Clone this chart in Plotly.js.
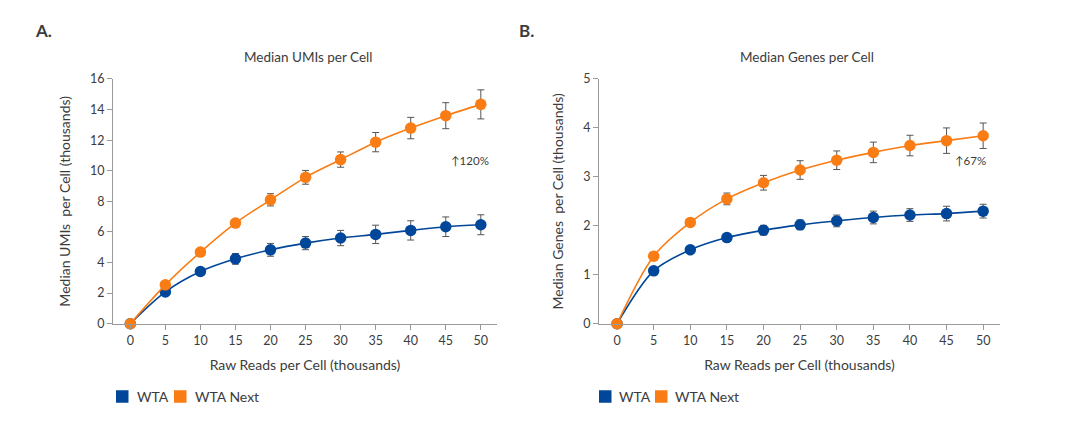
<!DOCTYPE html>
<html>
<head>
<meta charset="utf-8">
<script src="https://cdn.plot.ly/plotly-3.0.1.min.js"></script>
<style>html,body{margin:0;padding:0;background:#fff;}#chart{width:1071px;height:421px;}</style>
</head>
<body>
<div id="chart"></div>
<script>
// ---- data ----
const reads = [0, 5, 10, 15, 20, 25, 30, 35, 40, 45, 50];

// Panel A: Median UMIs per Cell (thousands)
const umiWTA        = [0, 2.08, 3.41, 4.24, 4.83, 5.27, 5.60, 5.84, 6.10, 6.34, 6.47];
const umiWTAErr     = [0, 0.10, 0.15, 0.35, 0.42, 0.43, 0.50, 0.60, 0.63, 0.64, 0.65];
const umiNext       = [0, 2.54, 4.68, 6.58, 8.10, 9.57, 10.73, 11.87, 12.79, 13.60, 14.34];
const umiNextErr    = [0, 0.10, 0.12, 0.15, 0.40, 0.45, 0.50, 0.63, 0.70, 0.85, 0.95];

// Panel B: Median Genes per Cell (thousands)
const geneWTA       = [0, 1.08, 1.51, 1.76, 1.91, 2.02, 2.10, 2.17, 2.22, 2.25, 2.30];
const geneWTAErr    = [0, 0.03, 0.05, 0.08, 0.10, 0.10, 0.12, 0.13, 0.13, 0.15, 0.14];
const geneNext      = [0, 1.38, 2.07, 2.55, 2.88, 3.14, 3.34, 3.50, 3.64, 3.74, 3.84];
const geneNextErr   = [0, 0.04, 0.06, 0.12, 0.15, 0.19, 0.19, 0.21, 0.21, 0.26, 0.26];

const seriesNames = ["WTA", "WTA Next"];
const xTicks = [0, 5, 10, 15, 20, 25, 30, 35, 40, 45, 50];
const umiTicks = [0, 2, 4, 6, 8, 10, 12, 14, 16];
const geneTicks = [0, 1, 2, 3, 4, 5];

// ---- styling ----
const BLUE = "#00479A";
const ORANGE = "#F97C14";
const FONT = "Lato, 'Open Sans', sans-serif";
const TXT = "#3c3c3c";
const W = 1071, H = 421;

function series(x, y, err, color, xa, ya) {
  return {
    x: x, y: y, xaxis: xa, yaxis: ya,
    type: "scatter", mode: "lines+markers",
    line: {color: color, width: 1.6, shape: "spline", smoothing: 0.9},
    marker: {color: color, size: 11.5},
    error_y: {type: "data", array: err, visible: true, color: "#555", thickness: 1, width: 3.5},
    showlegend: false, cliponaxis: false, hoverinfo: "x+y"
  };
}

const data = [
  series(reads, umiWTA, umiWTAErr, BLUE, "x", "y"),
  series(reads, umiNext, umiNextErr, ORANGE, "x", "y"),
  series(reads, geneWTA, geneWTAErr, BLUE, "x2", "y2"),
  series(reads, geneNext, geneNextErr, ORANGE, "x2", "y2")
];

const xCommon = {
  range: [-2.47, 52.3], tickvals: xTicks, ticktext: xTicks.map(String),
  showgrid: false, zeroline: false, showline: true, linecolor: "#9a9a9a", linewidth: 1,
  ticks: "outside", ticklen: 5, tickcolor: "#9a9a9a",
  tickfont: {family: FONT, size: 12.5, color: TXT},
  title: {text: "Raw Reads per Cell (thousands)", font: {family: FONT, size: 14, color: TXT}, standoff: 13}
};
function yCommon(range, ticks, title, anchor) {
  return {
    range: range, tickvals: ticks, ticktext: ticks.map(String), anchor: anchor,
    showgrid: false, zeroline: false, showline: true, linecolor: "#9a9a9a", linewidth: 1,
    ticks: "outside", ticklen: 5, tickcolor: "#9a9a9a",
    tickfont: {family: FONT, size: 12.5, color: TXT},
    domain: [0.2311, 0.8124],
    title: {text: title, font: {family: FONT, size: 14, color: TXT}, standoff: 16}
  };
}

// legend keys (drawn as swatches + labels below each panel)
const legendRows = [
  {names: seriesNames, colors: [BLUE, ORANGE], textLeft: [135, 193], swLeft: [116, 174]},
  {names: seriesNames, colors: [BLUE, ORANGE], textLeft: [617, 673], swLeft: [599, 655]}
];
const LEG_CY = 396.5, SW = 12.5;
const legendShapes = [], legendAnn = [];
legendRows.forEach(row => {
  row.names.forEach((nm, i) => {
    legendShapes.push({type: "rect", xref: "paper", yref: "paper",
      x0: row.swLeft[i] / W, x1: (row.swLeft[i] + SW) / W,
      y0: 1 - (LEG_CY + SW / 2) / H, y1: 1 - (LEG_CY - SW / 2) / H,
      fillcolor: row.colors[i], line: {width: 0}});
    legendAnn.push({text: nm, xref: "paper", yref: "paper", x: row.textLeft[i] / W, y: 1 - LEG_CY / H,
      xanchor: "left", yanchor: "middle", showarrow: false, font: {family: FONT, size: 14, color: TXT}});
  });
});

const layout = {
  width: W, height: H,
  margin: {l: 0, r: 0, t: 0, b: 0},
  paper_bgcolor: "#fff", plot_bgcolor: "#fff",
  font: {family: FONT, color: TXT},
  showlegend: false,
  xaxis: Object.assign({}, xCommon, {domain: [0.1055, 0.464], anchor: "y"}),
  yaxis: yCommon([0, 16], umiTicks, "Median UMIs  per Cell (thousands)", "x"),
  xaxis2: Object.assign({}, xCommon, {domain: [0.5593, 0.9337], anchor: "y2"}),
  yaxis2: yCommon([0, 5], geneTicks, "Median Genes  per Cell (thousands)", "x2"),
  shapes: legendShapes,
  annotations: [
    {text: "<b>A.</b>", xref: "paper", yref: "paper", x: 33 / W, y: 1 - 30 / H,
     xanchor: "left", yanchor: "middle", showarrow: false, font: {family: FONT, size: 17, color: TXT}},
    {text: "<b>B.</b>", xref: "paper", yref: "paper", x: 517 / W, y: 1 - 30 / H,
     xanchor: "left", yanchor: "middle", showarrow: false, font: {family: FONT, size: 17, color: TXT}},
    {text: "Median UMIs per Cell", xref: "paper", yref: "paper", x: 308 / W, y: 1 - 57 / H,
     xanchor: "center", yanchor: "middle", showarrow: false, font: {family: FONT, size: 13.5, color: TXT}},
    {text: "Median Genes per Cell", xref: "paper", yref: "paper", x: 807 / W, y: 1 - 57 / H,
     xanchor: "center", yanchor: "middle", showarrow: false, font: {family: FONT, size: 13.5, color: TXT}},
    {text: "↑120%", xref: "x", yref: "y", x: 51.4, y: 10.67, xanchor: "right", yanchor: "middle",
     showarrow: false, font: {family: FONT, size: 11.5, color: TXT}},
    {text: "↑67%", xref: "x2", yref: "y2", x: 50.6, y: 3.33, xanchor: "right", yanchor: "middle",
     showarrow: false, font: {family: FONT, size: 11.5, color: TXT}}
  ].concat(legendAnn)
};

Plotly.newPlot("chart", data, layout, {displayModeBar: false, staticPlot: true});
</script>
</body>
</html>
